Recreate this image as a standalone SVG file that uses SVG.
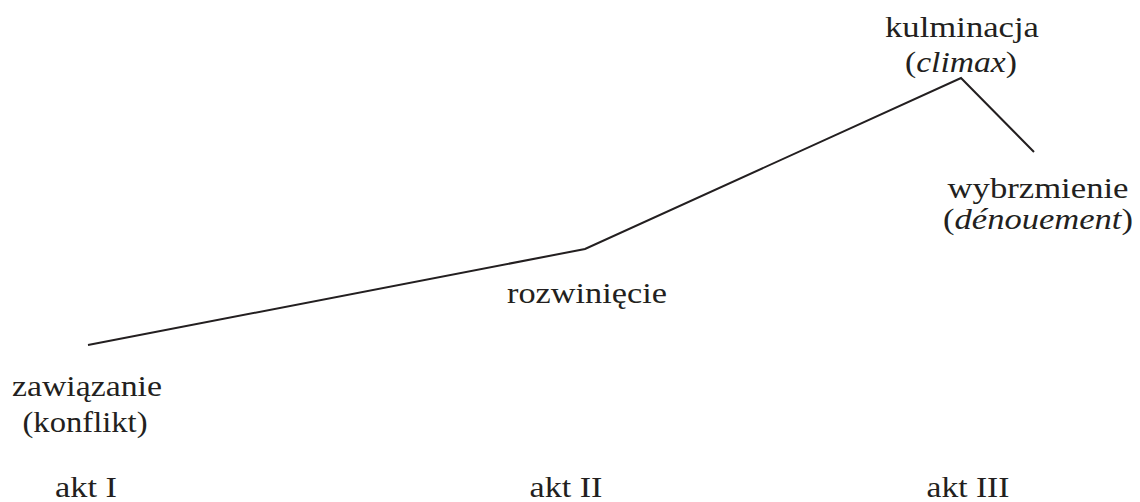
<svg xmlns="http://www.w3.org/2000/svg" width="1140" height="502" viewBox="0 0 1140 502">
<style>
text{font-family:"Liberation Serif","Times New Roman",serif;font-size:30px;fill:#231f20;text-anchor:middle}
.it{font-style:italic}
.ln{fill:none;stroke:#231f20;stroke-width:2;stroke-linejoin:miter}
</style>
<rect width="1140" height="502" fill="#fff"/>
<g id="connectors">
<polyline class="ln" points="88,345 585,249 961,78 1034,152"/>
</g>
<g id="node-zawiazanie">
<text x="87" y="396" textLength="150" lengthAdjust="spacingAndGlyphs">zawiązanie</text>
<text x="85" y="432" textLength="125" lengthAdjust="spacingAndGlyphs">(konflikt)</text>
</g>
<g id="node-rozwiniecie">
<text x="587" y="303" textLength="160" lengthAdjust="spacingAndGlyphs">rozwinięcie</text>
</g>
<g id="node-kulminacja">
<text x="962" y="37" textLength="154" lengthAdjust="spacingAndGlyphs">kulminacja</text>
<text x="961" y="72" textLength="112" lengthAdjust="spacingAndGlyphs">(<tspan class="it">climax</tspan>)</text>
</g>
<g id="node-wybrzmienie">
<text x="1038" y="198" textLength="181" lengthAdjust="spacingAndGlyphs">wybrzmienie</text>
<text x="1038" y="229" textLength="190" lengthAdjust="spacingAndGlyphs">(<tspan class="it">dénouement</tspan>)</text>
</g>
<g id="node-akt1"><text x="86" y="497" textLength="62" lengthAdjust="spacingAndGlyphs">akt I</text></g>
<g id="node-akt2"><text x="566" y="497" textLength="73" lengthAdjust="spacingAndGlyphs">akt II</text></g>
<g id="node-akt3"><text x="968" y="497" textLength="83" lengthAdjust="spacingAndGlyphs">akt III</text></g>
</svg>
